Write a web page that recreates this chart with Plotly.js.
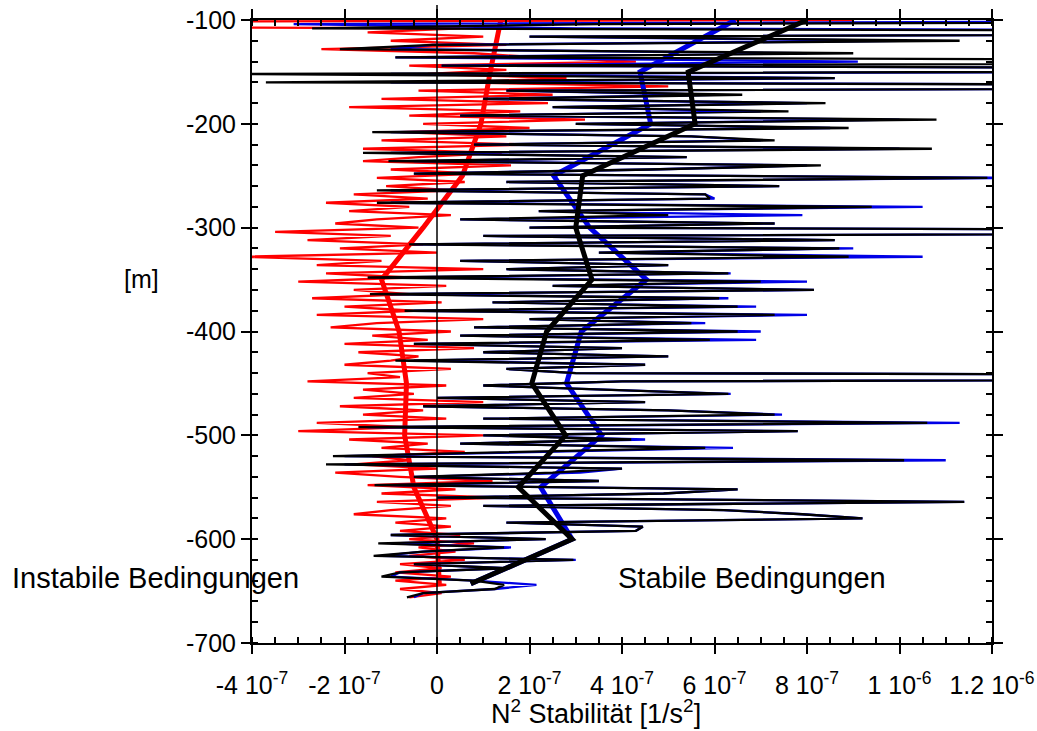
<!DOCTYPE html>
<html>
<head>
<meta charset="utf-8">
<script src="https://cdn.plot.ly/plotly-3.0.1.min.js"></script>
<style>html,body{margin:0;padding:0;background:#fff;}#chart{width:1037px;height:731px;}</style>
</head>
<body>
<div id="chart"></div>
<script>
// N^2 values in units of 1e-7 1/s^2; raw profiles start at -100 m, one value every 4 m
const rawTopDepth = -100;
const rawStep = -4;
const redRaw = [
  9.0, -30, 0.5, -1.5, 1.0, -1.0, 1.5, -2.5, 0.8, 2.2,
  4.3, -0.6, 1.5, -0.2, 2.8, 0.5, 5.0, -0.4, 2.5, -1.2,
  2.4, -1.9, 1.8, -0.6, 3.2, -0.3, 2.0, -0.8, 1.5, -1.2,
  2.0, -1.6, 1.4, -0.4, -1.6, 1.6, -1.0, 0.9, -1.3, 0.6,
  -1.1, 0.4, -1.8, -0.2, -2.4, -0.6, -1.9, 0.3, -1.3, -2.2,
  -0.4, -3.5, -1.0, -2.8, -0.3, -2.1, 0.0, -4.2, -1.2, -2.6,
  1.0, -2.4, -0.6, -3.0, 0.2, -1.8, -0.6, -2.7, 0.1, -2.0,
  -0.5, -2.6, 1.0, -1.3, -2.3, 0.3, -1.4, -0.2, -2.0, 0.8,
  -1.7, -0.4, -1.0, -2.0, 0.3, -1.5, -0.8, -2.8, 0.2, -1.6,
  -0.5, -1.8, 1.0, -2.1, -0.3, -1.6, 0.2, -2.6, -0.6, -3.0,
  1.0, -1.9, -0.2, -1.2, 0.6, -1.4, -0.6, -1.8, 0.0, -2.2,
  -0.8, 1.2, -1.5, 0.4, -1.2, 1.4, -1.3, 0.3, -1.0, -1.8,
  0.2, -0.9, 0.3, -0.8, 0.5, -0.6, 0.8, -0.4, 0.4, -0.6,
  0.6, -0.8, 0.1, -0.9, 0.3, -0.9, 0.2, -0.8, 0.1, -0.6
];
const blueRaw = [
  25, -3.1, 3.0, 30, 2.0, 10.0, -0.1, -1.0, 8.0, -0.9,
  9.1, 0.1, 30, -1.0, 8.6, -1.0, 30, 1.5, 6.0, 1.0,
  8.0, 2.5, 7.0, 0.5, 10.0, 3.0, 8.5, -1.0, 5.5, 7.0,
  0.8, 10.0, -1.0, 5.4, -0.5, 8.0, 4.6, -0.5, 12.5, 1.5,
  7.4, -1.0, 5.8, 6.0, -1.0, 10.5, 2.2, 7.9, 0.5, 7.3,
  2.0, 30, 1.0, 8.6, -0.5, 9.0, 3.5, 10.5, 0.5, 5.0,
  1.5, 6.35, -1.0, 8.0, 2.5, 8.15, -1.0, 6.3, 1.2, 6.9,
  -0.5, 8.0, 2.0, 5.8, 0.8, 7.0, 0.5, 6.9, -0.5, 4.0,
  1.0, 5.0, -0.5, 4.5, 1.5, 3.0, 40, 4.0, 1.0, 3.8,
  6.35, 0.0, 4.5, -0.3, 5.0, 7.46, 1.0, 11.3, -1.5, 7.8,
  1.0, 4.5, 0.5, 6.4, 2.0, -2.0, 11.0, -2.0, 4.0, 3.1,
  -0.5, 3.5, -1.0, 6.5, 4.9, 0.0, 11.4, 1.0, 6.2, 7.9,
  9.2, 1.5, 4.45, 4.3, -1.0, 2.35, -1.0, 1.6, -0.3, -1.2,
  3.0, -0.5, 1.5, -0.8, -1.0, 0.8, 2.15, 1.25, -0.3, -0.5
];
const blackRaw = [
  30, 3.5, -2.7, 30, 2.0, 11.3, -0.1, -2.1, 9.0, -0.9,
  30, 0.1, 30, -4.5, 8.6, -3.7, 30, 1.5, 6.6, 1.0,
  8.4, 2.5, 7.6, 0.5, 10.8, 3.0, 8.9, -1.4, 5.5, 7.3,
  0.8, 10.7, -1.6, 5.4, -1.05, 8.3, 4.6, -0.5, 11.9, 1.5,
  7.4, -1.3, 5.8, 5.9, -1.3, 9.4, 2.2, 5.0, 0.5, 7.3,
  2.0, 30, 1.0, 8.6, -0.6, 8.7, 3.5, 8.9, 0.5, 5.0,
  1.5, 6.3, -1.5, 7.0, 2.5, 8.15, -1.45, 6.1, 1.2, 6.5,
  -0.7, 7.3, 2.0, 5.5, 0.8, 6.5, 0.5, 5.9, -0.5, 4.0,
  1.0, 5.0, -0.9, 4.5, 1.5, 3.0, 40, 4.0, 1.0, 3.8,
  6.3, 0.0, 4.5, -0.3, 5.0, 7.3, 1.0, 10.6, -1.7, 7.8,
  1.0, 4.2, 0.5, 5.8, 2.0, -2.25, 10.1, -2.4, 4.0, 2.5,
  -0.5, 3.5, -1.35, 6.5, 4.9, 0.0, 11.4, 1.0, 6.2, 7.9,
  9.2, 1.5, 4.45, 4.3, -1.0, 2.35, -1.27, 1.45, -0.3, -1.37,
  2.95, -0.5, 1.5, -0.8, -1.2, 0.8, 1.45, 1.25, -0.3, -0.65
];
// 50 m averaged profiles
const meanDepths = [-100, -150, -200, -250, -300, -350, -400, -450, -500, -550, -600, -643];
const redMean   = [1.38, 1.15, 0.95, 0.55, -0.30, -1.20, -0.82, -0.66, -0.70, -0.50, 0.00, 0.05];
const blueMean  = [6.45, 4.39, 4.62, 2.52, 3.30, 4.53, 3.12, 2.80, 3.56, 2.24, 2.92, 0.73];
const blackMean = [8.00, 5.43, 5.58, 3.15, 3.00, 3.35, 2.37, 2.05, 2.78, 1.76, 2.92, 0.73];

const xTickVals = [-4, -2, 0, 2, 4, 6, 8, 10, 12];
const xTickText = ['-4 10<sup>-7</sup>', '-2 10<sup>-7</sup>', '0', '2 10<sup>-7</sup>', '4 10<sup>-7</sup>',
                   '6 10<sup>-7</sup>', '8 10<sup>-7</sup>', '1 10<sup>-6</sup>', '1.2 10<sup>-6</sup>'];
const yTickVals = [-700, -600, -500, -400, -300, -200, -100];
const yTickText = ['-700', '-600', '-500', '-400', '-300', '-200', '-100'];

const FONT = 'Liberation Sans, Arial, sans-serif';
const RED = '#ff0000', BLUE = '#0000e6', BLACK = '#000000';

function rawTrace(vals, color) {
  return {type: 'scatter', mode: 'lines', x: vals, y0: rawTopDepth, dy: rawStep,
          line: {color: color, width: 2.3}, hoverinfo: 'skip', showlegend: false};
}
function meanTrace(vals, color) {
  return {type: 'scatter', mode: 'lines', x: vals, y: meanDepths,
          line: {color: color, width: 5}, hoverinfo: 'skip', showlegend: false};
}

const traces = [
  rawTrace(redRaw, RED), meanTrace(redMean, RED),
  rawTrace(blueRaw, BLUE), meanTrace(blueMean, BLUE),
  rawTrace(blackRaw, BLACK), meanTrace(blackMean, BLACK)
];

const axisCommon = {showgrid: false, zeroline: false, showline: true, linewidth: 2, linecolor: '#000',
                    tickcolor: '#000', tickwidth: 2, ticklen: 9, mirror: 'ticks', fixedrange: true};

const layout = {
  width: 1037, height: 731,
  margin: {l: 252, r: 45, t: 20, b: 88, pad: 0},
  paper_bgcolor: '#fff', plot_bgcolor: '#fff',
  font: {family: FONT, color: '#000', size: 25},
  showlegend: false,
  hovermode: false,
  xaxis: Object.assign({}, axisCommon, {
    range: [-4, 12], tickmode: 'array', tickvals: xTickVals, ticktext: xTickText,
    ticks: 'outside', tickfont: {family: FONT, size: 25}, ticklabelstandoff: 10,
    minor: {ticks: 'inside', dtick: 0.5, tick0: 0, ticklen: 6, tickwidth: 2, tickcolor: '#000', showgrid: false}
  }),
  xaxis2: Object.assign({}, axisCommon, {
    overlaying: 'x', anchor: 'y', side: 'bottom', range: [-4, 12], tickmode: 'array', tickvals: xTickVals,
    ticks: 'inside', showticklabels: false
  }),
  yaxis: Object.assign({}, axisCommon, {
    range: [-700, -100], tickmode: 'array', tickvals: yTickVals, ticktext: yTickText,
    ticks: 'outside', tickfont: {family: FONT, size: 25},
    minor: {ticks: 'inside', dtick: 20, tick0: 0, ticklen: 6, tickwidth: 2, tickcolor: '#000', showgrid: false}
  }),
  yaxis2: Object.assign({}, axisCommon, {
    overlaying: 'y', anchor: 'x', side: 'left', range: [-700, -100], tickmode: 'array', tickvals: yTickVals,
    ticks: 'inside', showticklabels: false
  }),
  shapes: [
    {type: 'line', xref: 'x', x0: 0, x1: 0, yref: 'paper', y0: 0, y1: 1.024,
     line: {color: '#000', width: 1.5}, layer: 'above'}
  ],
  annotations: [
    {text: '[m]', xref: 'paper', yref: 'paper', x: -0.15, y: 0.584, xanchor: 'center', yanchor: 'middle',
     showarrow: false, font: {family: FONT, size: 25}},
    {text: 'N<sup>2</sup> Stabilität [1/s<sup>2</sup>]', xref: 'paper', yref: 'paper', x: 0.465, y: -0.11,
     xanchor: 'center', yanchor: 'middle', showarrow: false, font: {family: FONT, size: 27}},
    {text: 'Instabile Bedingungen', xref: 'paper', yref: 'paper', x: -0.131, y: 0.104,
     xanchor: 'center', yanchor: 'middle', showarrow: false, font: {family: FONT, size: 29}},
    {text: 'Stabile Bedingungen', xref: 'paper', yref: 'paper', x: 0.676, y: 0.104,
     xanchor: 'center', yanchor: 'middle', showarrow: false, font: {family: FONT, size: 29}}
  ]
};

Plotly.newPlot('chart', traces, layout, {staticPlot: true, displayModeBar: false});
</script>
</body>
</html>
